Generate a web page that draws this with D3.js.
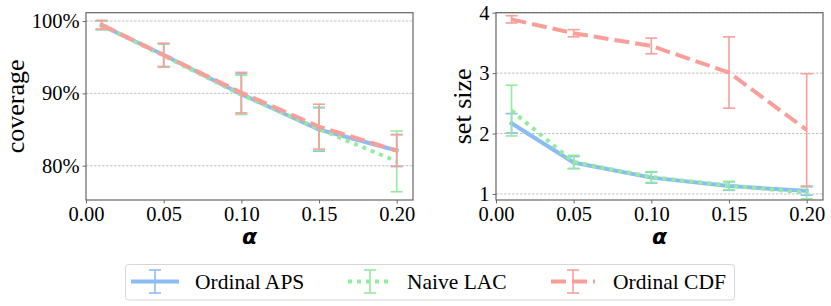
<!DOCTYPE html>
<html>
<head>
<meta charset="utf-8">
<script src="https://cdn.jsdelivr.net/npm/d3@7"></script>
<style>
  body { margin: 0; background: #fff; }
  svg { display: block; }
</style>
</head>
<body>
<div class="chart"></div>
<script>
const alphas = [0.01, 0.05, 0.10, 0.15, 0.20];
const seriesNames = ["Ordinal APS", "Naive LAC", "Ordinal CDF"];

// coverage (%), mean and half-width of error bar
const covAPS = [99.4, 95.3, 89.9, 85.0, 82.1];
const covAPSErr = [0.6, 1.6, 2.8, 3.0, 2.2];
const covLAC = [99.4, 95.2, 89.8, 85.1, 80.6];
const covLACErr = [0.6, 1.6, 2.7, 3.0, 4.2];
const covCDF = [99.5, 95.3, 90.1, 85.4, 82.1];
const covCDFErr = [0.6, 1.6, 2.8, 3.1, 2.2];

// set size
const sizeAPS = [2.17, 1.52, 1.27, 1.13, 1.05];
const sizeAPSErr = [0.16, 0.10, 0.09, 0.07, 0.07];
const sizeLAC = [2.38, 1.53, 1.28, 1.14, 1.02];
const sizeLACErr = [0.42, 0.11, 0.09, 0.07, 0.10];
const sizeCDF = [3.89, 3.66, 3.45, 3.01, 2.06];
const sizeCDFErr = [0.06, 0.06, 0.13, 0.59, 0.93];

const xTicks = [0.00, 0.05, 0.10, 0.15, 0.20];
const covTicks = [80, 90, 100];
const sizeTicks = [1, 2, 3, 4];

const serif = "'Liberation Serif', 'Times New Roman', Times, serif";
const colors = ["#8dbcf4", "#93eb9d", "#f99f9a"];
const dashes = [null, "4,5", "15,6"];
const lineCaps = ["square", "butt", "butt"];

const W = 831, H = 306;
const svg = d3.select(".chart").append("svg")
    .attr("width", W).attr("height", H);

function panel(opts) {
    const left = opts.left, top = 12.7, width = 327, height = 187.3;
    const g = svg.append("g").attr("transform", "translate(" + left + "," + top + ")");

    const x = d3.scaleLinear().domain([0, 0.2105]).range([0, width]);
    const y = d3.scaleLinear().domain(opts.ydomain).range([height, 0]);

    // grid
    g.append("g").selectAll("line")
        .data(opts.yticks)
        .enter().append("line")
        .attr("x1", 0).attr("x2", width)
        .attr("y1", d => y(d)).attr("y2", d => y(d))
        .attr("stroke", "#b0b0b0").attr("stroke-width", 0.8)
        .attr("stroke-dasharray", "2.5,1.5");

    // each series: error bars then its line (drawn in series order)
    opts.series.forEach(function(s, i) {
        const eg = g.append("g");
        alphas.forEach(function(a, j) {
            const cx = x(a), lo = y(s.v[j] - s.e[j]), hi = y(s.v[j] + s.e[j]);
            eg.append("line").attr("x1", cx).attr("x2", cx).attr("y1", lo).attr("y2", hi)
                .attr("stroke", colors[i]).attr("stroke-width", 1.6);
            [lo, hi].forEach(function(yy) {
                eg.append("line").attr("x1", cx - 6).attr("x2", cx + 6).attr("y1", yy).attr("y2", yy)
                    .attr("stroke", colors[i]).attr("stroke-width", 1.6);
            });
        });
        const line = d3.line().x((d, j) => x(alphas[j])).y(d => y(d));
        g.append("path").datum(s.v)
            .attr("d", line)
            .attr("fill", "none")
            .attr("stroke", colors[i])
            .attr("stroke-width", 4)
            .attr("stroke-dasharray", dashes[i])
            .attr("stroke-linecap", lineCaps[i]);
    });

    // axes
    const xa = g.append("g").attr("transform", "translate(0," + height + ")")
        .call(d3.axisBottom(x).tickValues(xTicks).tickFormat(d3.format(".2f")).tickSize(3.5).tickPadding(3));
    const ya = g.append("g")
        .call(d3.axisLeft(y).tickValues(opts.yticks).tickFormat(opts.fmt).tickSize(3.5).tickPadding(3));
    [xa, ya].forEach(function(a) {
        a.select(".domain").remove();
        a.selectAll(".tick line").attr("stroke", "#444").attr("stroke-width", 0.8);
        a.selectAll(".tick text")
            .style("font-family", serif).style("font-size", "20.5px").attr("fill", "#000");
    });

    g.append("rect").attr("width", width).attr("height", height)
        .attr("fill", "none").attr("stroke", "#666").attr("stroke-width", 1.2);

    // labels
    g.append("text")
        .attr("x", width / 2).attr("y", height + 44)
        .attr("text-anchor", "middle")
        .style("font-family", "'DejaVu Sans', sans-serif")
        .style("font-style", "italic").style("font-weight", "bold")
        .style("font-size", "22px")
        .text("α");
    g.append("text")
        .attr("transform", "translate(" + opts.ylabX + "," + (height / 2) + ") rotate(-90)")
        .attr("text-anchor", "middle")
        .style("font-family", serif)
        .style("font-size", "26px")
        .text(opts.ylabel);
}

panel({
    left: 86, ydomain: [75.26, 101.15], yticks: covTicks,
    fmt: d => d + "%", ylabel: "coverage", ylabX: -62,
    series: [{v: covAPS, e: covAPSErr}, {v: covLAC, e: covLACErr}, {v: covCDF, e: covCDFErr}]
});
panel({
    left: 496, ydomain: [0.9, 4.0], yticks: sizeTicks,
    fmt: d3.format("d"), ylabel: "set size", ylabX: -25,
    series: [{v: sizeAPS, e: sizeAPSErr}, {v: sizeLAC, e: sizeLACErr}, {v: sizeCDF, e: sizeCDFErr}]
});

// legend
const lg = svg.append("g");
lg.append("rect").attr("x", 125.5).attr("y", 264.5).attr("width", 609).attr("height", 35.5)
    .attr("rx", 3).attr("fill", "#fff").attr("stroke", "#d6d6d6").attr("stroke-width", 1);
const handleCx = [155, 370, 573];
const textX = [195, 407, 613];
seriesNames.forEach(function(name, i) {
    const cy = 281.5, cx = handleCx[i], x0 = cx - 22, x1 = cx + 22;
    lg.append("line").attr("x1", x0).attr("x2", x1).attr("y1", cy).attr("y2", cy)
        .attr("stroke", colors[i]).attr("stroke-width", 4)
        .attr("stroke-dasharray", dashes[i]).attr("stroke-linecap", lineCaps[i]);
    lg.append("line").attr("x1", cx).attr("x2", cx).attr("y1", cy - 11.5).attr("y2", cy + 11.5)
        .attr("stroke", colors[i]).attr("stroke-width", 1.6);
    [cy - 11.5, cy + 11.5].forEach(function(yy) {
        lg.append("line").attr("x1", cx - 6).attr("x2", cx + 6).attr("y1", yy).attr("y2", yy)
            .attr("stroke", colors[i]).attr("stroke-width", 1.6);
    });
    lg.append("text").attr("x", textX[i]).attr("y", cy + 7)
        .style("font-family", serif).style("font-size", "21.5px")
        .text(name);
});
</script>
</body>
</html>
